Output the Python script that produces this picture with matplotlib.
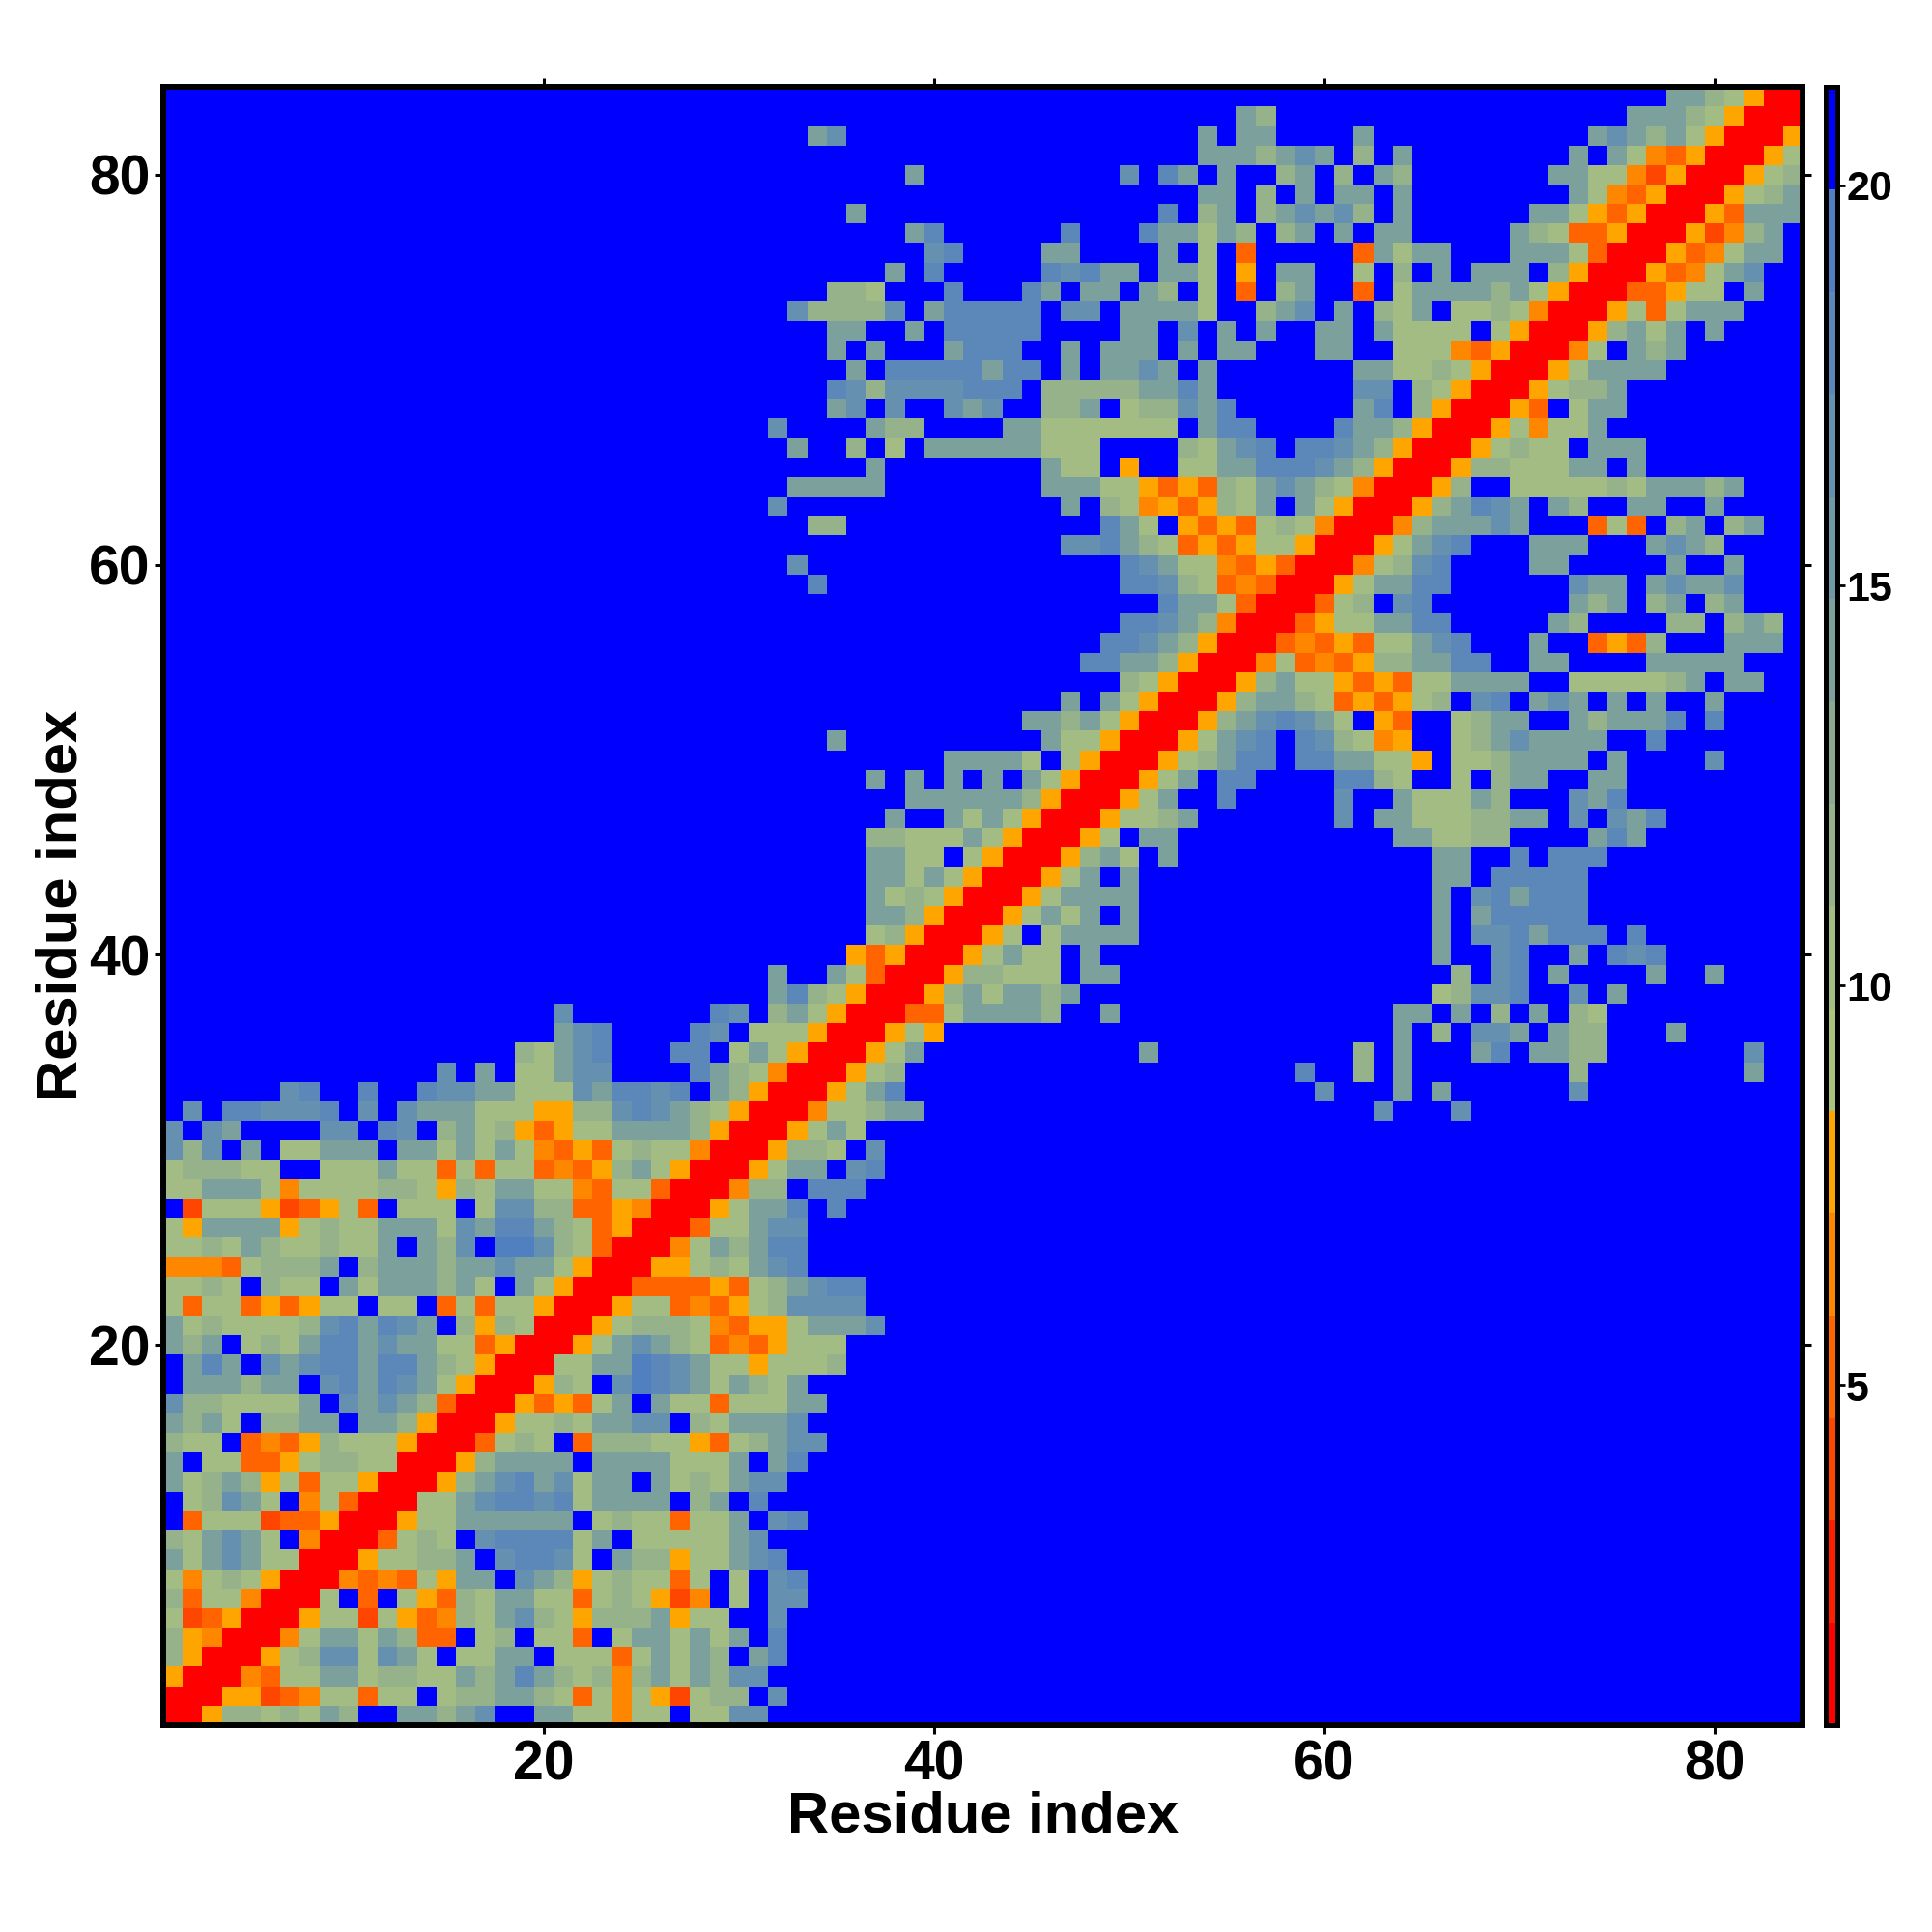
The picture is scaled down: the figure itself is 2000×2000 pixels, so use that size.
import numpy as np
import matplotlib
matplotlib.use("Agg")
import matplotlib.pyplot as plt
from matplotlib.colors import ListedColormap, BoundaryNorm

plt.rcParams['font.family'] = ['Liberation Sans', 'DejaVu Sans']
plt.rcParams['font.weight'] = 'bold'

# Lower-left half of the symmetric distance map, row by row (residue 1 first).
ROWS = [
 "R", "RR", "ORR", "bORR", "bOPRR", "aEDORR", "bDaaPRR", "aPabaORR", "cacdcaaRR", "bacdcaBPRR",
 "BDaaaEDDORR", "BabdcaBPaDRR", "cabcbOaDaaORR", "cBaaDDOabbaaRR", "baaBDPDObaaaORR",
 "cbcaBbbccBccbORR", "dbbaaaacBdcdcbDRR", "BcccbccBdecedcaORR", "BcecBdcdeeceecbaORR",
 "cbcBabaceecdccaaDORR", "cabaaaabdecedcBbObaRR", "aDaaDODOaaBaaBDaDaaORR",
 "aabaBbaaBcacccbcaBcaORR", "PPPDabbbcBbcccbccdccaORR", "aabacbaabaacBcbdBffdbaDRR",
 "aOccccOabaacccadceecbaDORR", "BEaaaOEDOaDBaaaBaddbbDDOPRR", "aacccaPaaaabbaObaccaaPDaaDRR",
 "abbbaaBBaaacaaDaDaaDPDObcaORR", "dbdBcBaacccBccacacaPDODabaaPRR",
 "dBdcBBBBddBedBbcabODOaaccccbORR", "BdBeedddeBdBdcccaaaOObbdedcbaORR",
 "BBBBBBdeBBeBBeddccaaadceedeBcbORR",
 "B"*14+"dBcBaacdd"+"BBBB"+"ecbaPRR",
 "B"*18+"bacde"+"BBB"+"eeBacaORR",
 "B"*20+"cde"+"BBBB"+"edBaaaORR",
 "B"*20+"d"+"B"*7+"edBbcaORR",
 "B"*31+"cebaORR",
 "B"*31+"cBBcaDRR",
 "B"*35+"ODORR",
 "B"*36+"abORR",
 "B"*36+"ccbORR",
 "B"*36+"cabaORR",
 "B"*36+"ccacaORR",
 "B"*36+"ccaaBaORR",
 "B"*36+"bbaaacaORR",
 "B"*37+"cBBcacaORR",
 "B"*38+"ccccccbORR",
 "B"*36+"cBcBcBcBcaORR",
 "B"*40+"ccccaBaORR",
 "B"*34+"c"+"B"*10+"caaORR",
 "B"*44+"ccbcaORR",
 "B"*46+"cBcaORR",
 "B"*49+"baORR",
 "B"*47+"eeccbORR",
 "B"*48+"eedcbORR",
 "B"*49+"eedcbPRR",
 "B"*51+"eccaDRR",
 "B"*33+"e"+"B"*15+"eedbaDPDRR",
 "B"*32+"d"+"B"*16+"edcaaPDODRR",
 "B"*46+"ddecbaDODOaaORR",
 "B"*33+"bb"+"B"*13+"ecaBODODabaPRR",
 "B"*31+"d"+"B"*14+"cBbaPODObacBcaORR",
 "B"*32+"ccccc"+"B"*8+"cccaaODODbacdcbaPRR",
 "B"*36+"c"+"B"*8+"caaBOBBaacceeedcbORR",
 "B"*32+"cBBbBaBccccccaaaBBBBbacdeBeedcbORR",
 "B"*31+"d"+"BBBB"+"cbb"+"BBBB"+"cc"+"aaaaaaa"+"Bcee"+"BBBB"+"eccbORR",
 "B"*34+"cdBdBBdcdBBbbcBabbdce"+"B"*6+"ceBbORR",
 "B"*34+"edbddddeeeBbbbbbccec"+"B"*7+"ddBbaORR",
 "B"*35+"cBeeeeeceeBcBccdcBc"+"B"*7+"ccaabaORR",
 "B"*34+"cBcBB"+"Bceee"+"BBcBc"+"ccBcB"+"ccBBB"+"ccBBa"+"aaPDO"+"RR",
 "B"*34+"ccBBc"+"Beeee"+"eBBBB"+"ccBdB"+"cBcBB"+"ccBca"+"aaaBa"+"ORR",
 "B"*32+"dbbbb"+"dBcee"+"eeeBd"+"dBccc"+"caBBb"+"cdBcB"+"bacBa"+"abaPR"+"R",
 "B"*34+"bba"+"BBB"+"e"+"BBB"+"ecBcc"+"BcbBa"+"BDBbc"+"BBDBa"+"ccccb"+"caORR",
 "B"*37+"cBe"+"B"*5+"edecc"+"BccaB"+"OBccB"+"BaBbB"+"cBccc"+"BbORR",
 "B"*39+"de"+"BBBB"+"cc"+"BBBB"+"cBaBD"+"BBBBB"+"Dcacc"+"BBB"+"cccaDRR",
 "B"*38+"ce"+"B"*6+"e"+"BBB"+"e"+"ccacbBbcBcBcc"+"B"*5+"cbaDDORR",
 "B"*35+"c"+"B"*15+"eBbcBbcdcdbBc"+"B"*6+"ccaODORR",
 "B"*53+"ccBbBcBccBc"+"B"*8+"caPDORR",
 "B"*38+"c"+"B"*10+"dBecBcBBbcBbBcb"+"B"*7+"ccaaPEORR",
 "B"*53+"cccbcdcBbBc"+"B"*8+"cBcaPDORR",
 "B"*33+"cd"+"B"*18+"cBcc"+"BBBB"+"c"+"B"*11+"cdcbcaORR",
 "B"*55+"cb"+"B"*18+"cccbaORR",
 "B"*77+"ccbaORR",
]
# distance value read for each colour class
CLASS_VALUES = {"R": 1.39, "E": 3.95, "D": 5.23, "P": 6.51, "O": 7.79, "a": 10.35,
                "b": 11.63, "c": 14.19, "d": 16.75, "e": 18.03, "f": 19.31, "B": 20.59}
# colour bar steps
LEVEL_MIN, LEVEL_MAX, N_LEVELS = 0.754, 21.23, 16
COLORS = ["#ff0000", "#ff1e00", "#ff4600", "#ff6400", "#ff8700", "#ffa500",
          "#acc37d", "#a3bc83", "#96b28a", "#89a992", "#7ca09b", "#7198a7",
          "#6690af", "#5b88b8", "#5080c0", "#0000ff"]
TICKS = [20, 40, 60, 80]
CBAR_TICKS = [5, 10, 15, 20]
XLABEL = YLABEL = "Residue index"

n = len(ROWS)
mat = np.full((n, n), np.nan)
for r, row in enumerate(ROWS):
    for c, ch in enumerate(row):
        mat[r, c] = mat[c, r] = CLASS_VALUES[ch]

bounds = np.linspace(LEVEL_MIN, LEVEL_MAX, N_LEVELS + 1)
cmap = ListedColormap(COLORS)
norm = BoundaryNorm(bounds, cmap.N)

W = 2000.0
fig = plt.figure(figsize=(20, 20), dpi=100, facecolor="white")
ax = fig.add_axes([169/W, 1-1786/W, (1866-169)/W, (1786-90)/W])
ax.imshow(mat, origin="lower", extent=(0.5, n+0.5, 0.5, n+0.5), cmap=cmap, norm=norm,
          aspect="auto", interpolation="nearest")
ax.set_xticks(TICKS); ax.set_yticks(TICKS)
ax.tick_params(axis="both", which="major", length=6.5, width=2.2, labelsize=41, top=True, right=True, color="black")
ax.tick_params(axis="x", pad=4)
ax.tick_params(axis="y", pad=3)
for s in ax.spines.values():
    s.set_linewidth(4.3)
    s.set_capstyle("projecting")
for t in ax.get_xticklabels() + ax.get_yticklabels():
    t.set_fontweight("bold")

cax = fig.add_axes([1889.5/W, 1-1786/W, 12/W, (1786-90)/W])
cax.pcolormesh([0, 1], bounds, np.array(bounds[:-1] + np.diff(bounds)/2).reshape(-1, 1), cmap=cmap, norm=norm)
cax.set_xticks([])
cax.yaxis.tick_right()
cax.set_yticks(CBAR_TICKS)
cax.tick_params(axis="y", length=6, width=2, labelsize=31, pad=1)
for s in cax.spines.values():
    s.set_linewidth(3.6)
for t in cax.get_yticklabels():
    t.set_fontweight("bold")

fig.text(1018/W, 1-1881/W, XLABEL, ha="center", va="center", fontsize=43, fontweight="bold")
fig.text(64/W, 1-937/W, YLABEL, ha="center", va="center", rotation=90, fontsize=43, fontweight="bold")

fig.savefig("out.png", dpi=100)
